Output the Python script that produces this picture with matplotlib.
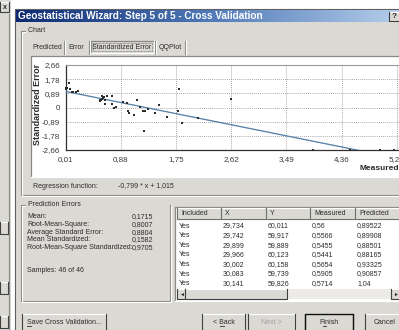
import numpy as np
import matplotlib
matplotlib.use('Agg')
import matplotlib.pyplot as plt
from matplotlib.patches import Rectangle
from matplotlib.colors import LinearSegmentedColormap

measured = [0.02, 0.04, 0.08, 0.06, 0.13, 0.17, 0.21, 0.02, 0.11,
            0.55, 0.56, 0.58, 0.59, 0.62, 0.63, 0.66, 0.64, 0.57, 0.60,
            0.74, 0.74, 0.78, 0.80, 0.91, 0.98, 0.99, 1.01, 1.09,
            1.14, 1.19, 1.25, 1.23, 1.27, 1.31, 1.42, 1.48, 1.61,
            1.79, 1.80, 1.85, 2.09, 2.61, 3.91, 4.50, 4.97, 5.19]
std_error = [1.21, 1.21, 1.15, 1.53, 0.96, 0.94, 1.05, 1.18, 1.00,
             0.48, 0.38, 0.69, 0.53, 0.63, 0.48, 0.69, 0.21, 0.45, 0.58,
             0.69, 0.21, -0.04, 0.03, 0.34, 0.31, -0.25, -0.35, -0.46,
             0.44, 0.06, -1.46, -0.25, -0.19, -0.10, -0.35, 0.17, -0.60,
             -0.21, 1.15, -0.98, -0.66, 0.55, -2.66, -2.66, -2.66, -2.66]
reg_slope = -0.799
reg_intercept = 1.015

x_ticks = [0.01, 0.88, 1.75, 2.62, 3.49, 4.36, 5.23]
y_ticks = [-2.66, -1.78, -0.89, 0, 0.89, 1.78, 2.66]

tab_names = ['Predicted', 'Error', 'Standardized Error', 'QQPlot']

error_names = ['Mean:', 'Root-Mean-Square:', 'Average Standard Error:',
               'Mean Standardized:', 'Root-Mean-Square Standardized:']
error_values = ['0,1715', '0,8007', '0,8804', '0,1582', '0,9705']
samples_text = 'Samples: 46 of 46'

table_cols = ['Included', 'X', 'Y', 'Measured', 'Predicted']
table_included = ['Yes'] * 7
table_x = ['29,734', '29,742', '29,899', '29,966', '30,002', '30,083', '30,141']
table_y = ['60,011', '59,917', '59,889', '60,123', '60,158', '59,739', '59,826']
table_measured = ['0,56', '0,5566', '0,5455', '0,5441', '0,5654', '0,5905', '0,5714']
table_predicted = ['0,89522', '0,89908', '0,88501', '0,88165', '0,93325', '0,90857', '1,04']

W, H = 399, 330
FACE = '#dbd9d3'
DARK = '#8a8883'
TXT = '#2b2b2b'
FS = 5
plt.rcParams['font.family'] = ['Liberation Sans', 'DejaVu Sans']


def fmt(v):
    return '0' if v == 0 else f'{v:.2f}'.replace('.', ',')


def rect(ax, x0, y0, x1, y1, fc, ec='none', lw=0.8, z=1):
    ax.add_patch(Rectangle((x0, y0), x1 - x0, y1 - y0, fc=fc, ec=ec, lw=lw, zorder=z))


def raised(ax, x0, y0, x1, y1, z=2, outer='#404040'):
    rect(ax, x0, y0, x1, y1, FACE, z=z)
    ax.plot([x0, x1, x1, x0], [y1, y1, y0, y0], color='white', lw=0.8, zorder=z)
    ax.plot([x0, x0, x1, x1], [y0, y1, y1, y0], color=outer, lw=0.8, zorder=z)


def sunken(ax, x0, y0, x1, y1, fc='white', z=2):
    rect(ax, x0, y0, x1, y1, fc, z=z)
    ax.plot([x0, x0, x1], [y1, y0, y0], color=DARK, lw=0.9, zorder=z)
    ax.plot([x0, x1, x1], [y1, y1, y0], color='white', lw=0.9, zorder=z)


def groupbox(ax, x0, y0, x1, y1, label, z=2):
    for off, c in [(0, DARK), (1, 'white')]:
        ax.plot([x0 + 8 + off, x0 + off, x0 + off, x1 + off, x1 + off],
                [y0 + off, y0 + off, y1 + off, y1 + off, y0 + off],
                color=c, lw=0.8, zorder=z)
    ax.text(x0 + 5, y0, ' ' + label, fontsize=FS, color=TXT, va='center', ha='left',
            zorder=z + 1, bbox=dict(fc=FACE, ec='none', pad=0.2))


def underline(ax, x, y, w):
    ax.plot([x, x + w], [y, y], color=TXT, lw=0.6, zorder=6)


fig = plt.figure(figsize=(W / 100, H / 100), dpi=100, facecolor='white')
bg = fig.add_axes([0, 0, 1, 1])
bg.set_xlim(0, W)
bg.set_ylim(H, 0)
bg.axis('off')

# window behind the dialog on the left
rect(bg, 0, 0, 11, H, FACE)
bg.plot([9, 9], [14, H], color=DARK, lw=0.8)
raised(bg, 0, 2, 9, 12)
bg.text(4.5, 7.5, 'x', fontsize=FS, fontweight='bold', ha='center', va='center', color=TXT, zorder=5)
for yy in (222, 282, 316):
    raised(bg, 0, yy, 8, yy + 12)

# dialog frame and title bar
rect(bg, 15, 9, W + 2, H + 2, FACE, ec='#606060')
title_cmap = LinearSegmentedColormap.from_list('title', ['#0d2a72', '#4f79b8', '#b4cdea'])
bg.imshow(np.linspace(0, 1, 256)[None, :], cmap=title_cmap, aspect='auto',
          extent=(16, W, 22, 10), zorder=2)
bg.set_xlim(0, W)
bg.set_ylim(H, 0)
bg.text(18, 16, 'Geostatistical Wizard: Step 5 of 5 - Cross Validation', fontsize=7.2,
        fontweight='bold', color='white', va='center', ha='left', zorder=3)
raised(bg, 389, 12, W + 1, 21, z=3)
bg.text(394, 16.5, '?', fontsize=FS + 1, fontweight='bold', color=TXT, ha='center', va='center', zorder=4)

# Chart group box with tabs
groupbox(bg, 21, 31, W + 5, 195, 'Chart')
tab_edges = [31, 65, 90, 156, 186]
for i, name in enumerate(tab_names):
    x0, x1 = tab_edges[i], tab_edges[i + 1]
    if name == 'Standardized Error':
        sunken(bg, x0 + 1, 41, x1 - 2, 53, fc=FACE, z=3)
        bg.add_patch(Rectangle((x0 + 3, 43), x1 - x0 - 7, 8, fc='none', ec='#555555',
                               lw=0.5, ls=(0, (1, 1)), zorder=4))
    bg.text((x0 + x1) / 2 - 1, 47.5, name, fontsize=FS, color=TXT, ha='center', va='center', zorder=5)
    bg.plot([x1 - 1, x1 - 1], [41, 54], color=DARK, lw=0.8, zorder=4)
    bg.plot([x1, x1], [41, 54], color='white', lw=0.8, zorder=4)

sunken(bg, 31, 56, W + 2, 177)
bg.text(37, 104, 'Standardized Error', fontsize=6.5, fontweight='bold', color=TXT,
        rotation=90, ha='center', va='center', zorder=5)
bg.text(W, 168, 'Measured', fontsize=6, fontweight='bold', color=TXT,
        ha='right', va='center', zorder=5)
bg.text(33, 186, 'Regression function:', fontsize=FS, color=TXT, va='center', zorder=5)
bg.text(118, 186, f'{reg_slope:.3f} * x + {reg_intercept:.3f}'.replace('.', ','),
        fontsize=FS, color=TXT, va='center', zorder=5)

# scatter plot
px0, px1, py0, py1 = 65.5, W, 65, 150
ax = fig.add_axes([px0 / W, 1 - py1 / H, (px1 - px0) / W, (py1 - py0) / H])
ax.set_zorder(5)
ax.set_facecolor('none')
ax.set_xlim(x_ticks[0], x_ticks[-1] + 0.035)
ax.set_ylim(y_ticks[0], y_ticks[-1])
ax.set_xticks(x_ticks)
ax.set_yticks(y_ticks)
ax.set_xticklabels([fmt(v) for v in x_ticks])
ax.set_yticklabels([fmt(v) for v in y_ticks])
ax.tick_params(length=0, labelsize=5.8, labelcolor='#3a3a3a', pad=4)
ax.grid(True, color='#8a8a8a', lw=0.6, ls=(0, (1, 1.5)))
for side in ('left', 'bottom'):
    ax.spines[side].set_color('#303030')
    ax.spines[side].set_linewidth(0.9)
ax.spines['top'].set_color('#9a9a9a')
ax.spines['top'].set_linewidth(0.8)
ax.spines['right'].set_visible(False)

xs = np.array([x_ticks[0], x_ticks[-1]])
ax.plot(xs, reg_slope * xs + reg_intercept, color='#6f9cc4', lw=1.0, zorder=3)
ax.plot(xs, reg_slope * xs + reg_intercept, color='#3b5670', lw=0.4, alpha=0.6, zorder=3)
ax.scatter(measured, std_error, s=4, color='#2a2a2a', marker='s', lw=0, zorder=4, clip_on=False)

# Prediction Errors group box
groupbox(bg, 21, 205, 170, 301, 'Prediction Errors')
for i, (name, val) in enumerate(zip(error_names, error_values)):
    yy = 216.5 + i * 7.8
    bg.text(27, yy, name, fontsize=FS, color=TXT, va='center', zorder=5)
    bg.text(132, yy, val, fontsize=FS, color=TXT, va='center', zorder=5)
bg.text(27, 270, samples_text, fontsize=FS, color=TXT, va='center', zorder=5)

# cross validation table
sunken(bg, 175, 207, W + 2, 301)
col_edges = [177, 221, 266, 310, 355, W + 8]
for i, name in enumerate(table_cols):
    raised(bg, col_edges[i], 208, col_edges[i + 1], 219, z=3, outer='#707070')
    bg.text(col_edges[i] + 4, 213.5, name, fontsize=FS, color=TXT, va='center', zorder=5)
table_cells = [table_included, table_x, table_y, table_measured, table_predicted]
for j in range(len(table_x)):
    yy = 226 + j * 9.6
    for i, col in enumerate(table_cells):
        bg.text(col_edges[i] + 2, yy, col[j], fontsize=FS, color=TXT, va='center', zorder=5)
# horizontal scrollbar
rect(bg, 177, 289, W + 2, 299, '#ecebe8', z=3)
raised(bg, 177, 289, 185, 299, z=4)
raised(bg, 185, 289, 287, 299, z=4)
raised(bg, 391, 289, W + 1, 299, z=4)
bg.text(181, 294, '◄', fontsize=3.5, color='#202020', ha='center', va='center', zorder=6)
bg.text(395, 294, '►', fontsize=3.5, color='#202020', ha='center', va='center', zorder=6)

# buttons along the bottom
buttons = [('Save Cross Validation...', 22, 106, TXT), ('< Back', 202, 245, TXT),
           ('Next >', 248, 295, '#a0a0a0'), ('Finish', 305, 353, TXT), ('Cancel', 365, W + 6, TXT)]
for label, x0, x1, c in buttons:
    raised(bg, x0, 314, x1, H + 2, z=3)
    bg.text(x0 + 5 if label.startswith('Save') else (x0 + x1) / 2, 322, label, fontsize=FS, color=c,
            ha='left' if label.startswith('Save') else 'center', va='center', zorder=5)
bg.plot([305, 305, 353, 353], [H, 314, 314, H], color='#101010', lw=1.0, zorder=4)
underline(bg, 27, 325.5, 3.5)
underline(bg, 220, 325.5, 3.5)
underline(bg, 323, 325.5, 3)

fig.savefig('out.png', dpi=100, facecolor=fig.get_facecolor())
